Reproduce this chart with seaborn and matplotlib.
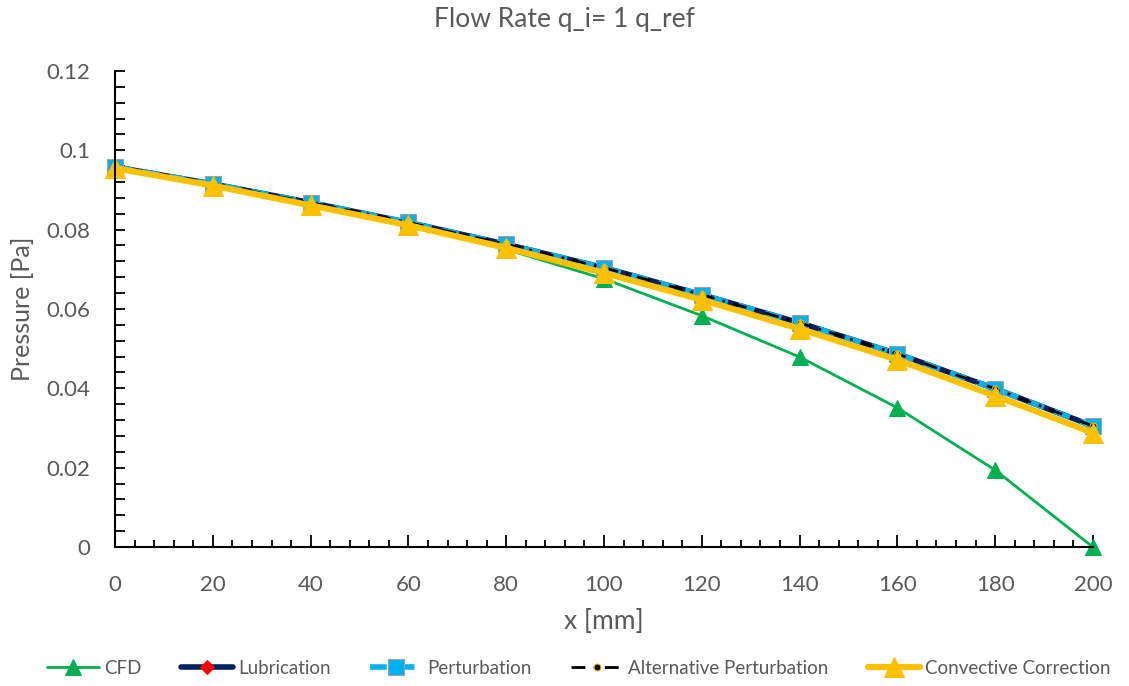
import numpy as np
import pandas as pd
import matplotlib
matplotlib.use("Agg")
import matplotlib.pyplot as plt
import seaborn as sns
from matplotlib.ticker import MultipleLocator

x_mm = [0, 20, 40, 60, 80, 100, 120, 140, 160, 180, 200]
cfd = [0.0955, 0.0910, 0.0860, 0.0810, 0.0750, 0.0676, 0.0583, 0.0479, 0.0351, 0.0194, 0.0]
lubrication = [0.0958, 0.0915, 0.0868, 0.0818, 0.0763, 0.0704, 0.0636, 0.0565, 0.0487, 0.0399, 0.0305]
perturbation = [0.0958, 0.0915, 0.0868, 0.0818, 0.0763, 0.0704, 0.0636, 0.0565, 0.0487, 0.0399, 0.0305]
alt_perturbation = [0.0958, 0.0915, 0.0868, 0.0818, 0.0763, 0.0704, 0.0636, 0.0565, 0.0487, 0.0399, 0.0305]
convective = [0.0955, 0.0911, 0.0861, 0.0811, 0.0754, 0.0691, 0.0623, 0.0550, 0.0472, 0.0381, 0.0288]

title = "Flow Rate q_i= 1 q_ref"
xlabel = "x [mm]"
ylabel = "Pressure [Pa]"

sns.set_theme(style="white")
plt.rcParams['font.family'] = ['Lato', 'DejaVu Sans']
gray = "#595959"

fig = plt.figure(figsize=(11.29, 6.86), dpi=100)
ax = fig.add_axes([0.102, 0.2026, 0.866, 0.694])

df = pd.DataFrame({"x": x_mm, "CFD": cfd, "Lubrication": lubrication,
                   "Perturbation": perturbation,
                   "Alternative Perturbation": alt_perturbation,
                   "Convective Correction": convective})

common = dict(ax=ax, clip_on=False)
sns.lineplot(data=df, x="x", y="CFD", color="#00B050", lw=2,
             marker="^", markersize=11, markeredgecolor="#00B050", label="CFD", **common)
sns.lineplot(data=df, x="x", y="Lubrication", color="#002060", lw=4,
             marker="D", markersize=7, markerfacecolor="#FF0000",
             markeredgecolor="#FF0000", label="Lubrication", **common)
sns.lineplot(data=df, x="x", y="Perturbation", color="#00B0F0", lw=4,
             linestyle=(0, (3, 2)), marker="s", markersize=11,
             markerfacecolor="#00B0F0", markeredgecolor="#A0A0A0",
             label="Perturbation", **common)
sns.lineplot(data=df, x="x", y="Alternative Perturbation", color="black",
             lw=2, linestyle=(0, (5, 3, 1, 3)), marker="o", markersize=5,
             markerfacecolor="black", markeredgecolor="#FFC000",
             label="Alternative Perturbation", **common)
sns.lineplot(data=df, x="x", y="Convective Correction", color="#FFC000",
             lw=4.5, marker="^", markersize=14, markeredgecolor="#FFC000",
             label="Convective Correction", **common)

ax.set_xlim(0, 200)
ax.set_ylim(0, 0.12)
ax.xaxis.set_minor_locator(MultipleLocator(4))
ax.yaxis.set_minor_locator(MultipleLocator(0.004))
ax.set_xticks(x_mm)
ax.set_xticklabels([str(v) for v in x_mm])
yt = [0, 0.02, 0.04, 0.06, 0.08, 0.1, 0.12]
ax.set_yticks(yt)
ax.set_yticklabels(["0", "0.02", "0.04", "0.06", "0.08", "0.1", "0.12"])

for s in ["top", "right"]:
    ax.spines[s].set_visible(False)
for s in ["left", "bottom"]:
    ax.spines[s].set_color("black")
    ax.spines[s].set_linewidth(1.5)

ax.tick_params(axis="x", which="major", direction="in", length=9, width=1.3,
               color="black", labelsize=16, labelcolor=gray, pad=20, bottom=True)
ax.tick_params(axis="x", which="minor", direction="in", length=5, width=1.3,
               color="black", bottom=True)
ax.tick_params(axis="y", which="both", direction="in", length=7, width=1.3,
               color="black", left=True)
ax.tick_params(axis="y", which="major", labelsize=16, labelcolor=gray, pad=18)

ax.set_xlabel(xlabel, fontsize=19, color=gray, labelpad=10)
ax.set_ylabel(ylabel, fontsize=18, color=gray)
ax.yaxis.set_label_coords(-0.083, 0.5)
fig.suptitle(title, fontsize=19, color=gray, y=0.99)

leg = ax.legend(loc="center", bbox_to_anchor=(0.474, -0.255), ncol=5,
                frameon=False, fontsize=13.5, handlelength=2.8, handletextpad=0.25,
                columnspacing=2.1)
for t in leg.get_texts():
    t.set_color(gray)

ax.grid(False)
fig.savefig("out.png", dpi=100)
